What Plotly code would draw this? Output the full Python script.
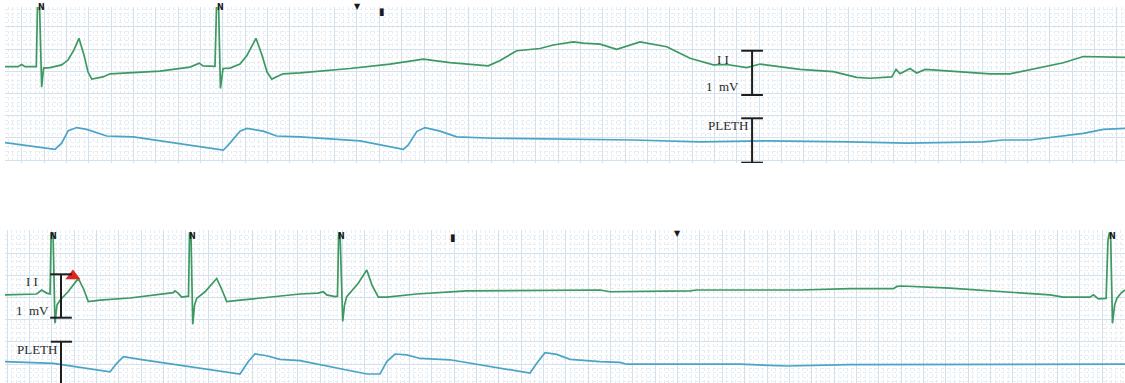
import plotly.graph_objects as go

# ---- Strip 1: lead II (mV) and pleth (scaled units), time in seconds ----
ecg1_t = [0.000, 0.116, 0.149, 0.179, 0.280, 0.291, 0.309, 0.328, 0.345, 0.403,
          0.507, 0.564, 0.617, 0.662, 0.707, 0.743, 0.776, 0.877, 0.940, 1.119,
          1.387, 1.655, 1.739, 1.772, 1.879, 1.893, 1.911, 1.928, 1.951, 2.013,
          2.103, 2.166, 2.246, 2.300, 2.345, 2.387, 2.488, 2.640, 3.087, 3.445,
          3.743, 3.982, 4.191, 4.325, 4.430, 4.579, 4.787, 4.906, 5.085, 5.175,
          5.324, 5.474, 5.682, 5.921, 6.130, 6.338, 6.458, 6.637, 6.756, 7.114,
          7.412, 7.621, 7.740, 7.935, 7.973, 8.009, 8.098, 8.158, 8.233, 8.456,
          8.814, 8.993, 9.232, 9.470, 9.649, 9.799, 10.022]
ecg1_mv = [0.00, 0.00, 0.05, 0.00, 0.00, 1.39, 1.39, -0.46, -0.03, -0.02,
           0.04, 0.15, 0.38, 0.64, 0.26, -0.12, -0.28, -0.23, -0.16, -0.14,
           -0.10, -0.01, 0.08, 0.02, 0.01, 1.39, 1.39, -0.49, -0.04, -0.03,
           0.06, 0.26, 0.64, 0.26, -0.12, -0.28, -0.16, -0.14, -0.04, 0.06,
           0.17, 0.09, 0.04, 0.02, 0.14, 0.36, 0.41, 0.49, 0.56, 0.53,
           0.51, 0.39, 0.56, 0.45, 0.19, 0.04, 0.05, -0.02, 0.06, -0.06,
           -0.11, -0.24, -0.26, -0.23, -0.06, -0.16, -0.04, -0.14, -0.06, -0.10,
           -0.16, -0.16, -0.04, 0.09, 0.23, 0.22, 0.21]

pleth1_t = [0.000, 0.447, 0.507, 0.566, 0.642, 0.731, 0.910, 1.148, 1.953, 2.013,
            2.103, 2.163, 2.311, 2.431, 2.640, 3.177, 3.564, 3.609, 3.684, 3.758,
            3.893, 4.042, 4.370, 5.324, 5.622, 6.219, 6.816, 7.562, 8.069, 8.754,
            8.931, 9.172, 9.411, 9.649, 9.828, 10.022]
pleth1_v = [-0.06, -0.21, -0.07, 0.21, 0.28, 0.24, 0.09, 0.07, -0.23, -0.07,
            0.20, 0.26, 0.20, 0.09, 0.07, -0.02, -0.21, -0.11, 0.19, 0.28,
            0.20, 0.07, 0.04, 0.02, 0.00, -0.04, -0.02, -0.04, -0.07, -0.04,
            0.00, 0.00, 0.07, 0.15, 0.24, 0.26]

# ---- Strip 2 ----
ecg2_t = [0.000, 0.284, 0.328, 0.373, 0.403, 0.413, 0.430, 0.447, 0.465, 0.492,
          0.564, 0.656, 0.707, 0.745, 0.850, 1.119, 1.506, 1.521, 1.548, 1.581,
          1.642, 1.651, 1.664, 1.680, 1.696, 1.715, 1.790, 1.894, 1.942, 1.984,
          2.103, 2.371, 2.640, 2.801, 2.848, 2.879, 2.953, 2.975, 2.986, 2.998,
          3.022, 3.038, 3.058, 3.161, 3.237, 3.284, 3.341, 3.416, 3.684, 4.132,
          5.324, 5.414, 6.130, 6.190, 7.114, 7.562, 7.949, 7.982, 8.024, 8.456,
          8.844, 9.351, 9.470, 9.709, 9.739, 9.763, 9.784, 9.853, 9.870, 9.882,
          9.893, 9.910, 9.929, 9.949, 9.987, 10.022]
ecg2_mv = [-0.02, 0.00, 0.09, 0.02, 0.00, 1.37, 1.37, -0.66, -0.25, -0.14,
           0.05, 0.35, 0.09, -0.17, -0.14, -0.09, 0.03, 0.07, 0.02, -0.07,
           -0.05, 1.37, 1.37, -0.68, -0.25, -0.10, 0.05, 0.35, 0.09, -0.17,
           -0.14, -0.07, 0.00, 0.02, 0.05, -0.02, -0.06, -0.05, 1.37, 1.37,
           -0.62, -0.25, -0.06, 0.24, 0.54, 0.20, -0.07, -0.07, 0.00, 0.07,
           0.09, 0.05, 0.07, 0.09, 0.09, 0.12, 0.12, 0.17, 0.18, 0.13,
           0.07, -0.02, -0.07, -0.07, -0.02, -0.08, -0.11, -0.10, 1.22, 1.37,
           1.37, -0.66, -0.25, -0.10, 0.02, 0.09]

pleth2_t = [0.000, 0.432, 0.940, 1.000, 1.059, 1.208, 2.103, 2.177, 2.237, 2.342,
            2.461, 2.640, 3.237, 3.356, 3.416, 3.490, 3.595, 3.714, 3.982, 4.698,
            4.758, 4.832, 4.937, 5.056, 5.324, 5.503, 5.563, 6.577, 6.995, 7.562,
            10.022]
pleth2_v = [0.01, -0.03, -0.22, -0.03, 0.12, 0.06, -0.27, 0.01, 0.18, 0.14,
            0.06, 0.03, -0.27, -0.27, 0.01, 0.18, 0.16, 0.08, 0.05, -0.25,
            -0.03, 0.21, 0.17, 0.06, 0.01, -0.01, -0.05, -0.05, -0.09, -0.06,
            -0.05]

# beat labels and event flags (seconds)
beats1 = [0.30, 1.90]
beats2 = [0.42, 1.657, 2.992, 9.888]
pause1 = 3.150
mark1 = 3.374
mark2 = 4.009
pause2 = 6.022
alarm2 = [0.608]

W, H = 1125, 383
ECG_COLOR = "#3d9862"
PLETH_COLOR = "#4ba4c6"
MAJOR = "#d2e1eb"
MINOR = "#e6edf3"

# vertical placement of traces in each strip (grid units, 0.5 mV per box)
ECG1_OFF, PLETH1_OFF = 2.169, 0.518
ECG2_OFF, PLETH2_OFF = 2.005, 0.473

fig = go.Figure()
fig.add_trace(go.Scatter(x=ecg1_t, y=[v + ECG1_OFF for v in ecg1_mv], mode="lines",
                         line=dict(color=ECG_COLOR, width=1.7), xaxis="x", yaxis="y"))
fig.add_trace(go.Scatter(x=pleth1_t, y=[v + PLETH1_OFF for v in pleth1_v], mode="lines",
                         line=dict(color=PLETH_COLOR, width=1.7), xaxis="x", yaxis="y"))
fig.add_trace(go.Scatter(x=ecg2_t, y=[v + ECG2_OFF for v in ecg2_mv], mode="lines",
                         line=dict(color=ECG_COLOR, width=1.7), xaxis="x2", yaxis="y2"))
fig.add_trace(go.Scatter(x=pleth2_t, y=[v + PLETH2_OFF for v in pleth2_v], mode="lines",
                         line=dict(color=PLETH_COLOR, width=1.7), xaxis="x2", yaxis="y2"))
# alarm flag on strip 2
fig.add_trace(go.Scatter(x=alarm2, y=[2.41], mode="markers",
                         marker=dict(symbol="triangle-up", size=13, color="#e0231c"),
                         xaxis="x2", yaxis="y2"))


def grid_axis(domain, rng, tick0, dtick, mdtick, anchor):
    return dict(domain=domain, range=rng, anchor=anchor, tick0=tick0, dtick=dtick,
                showgrid=True, gridcolor=MAJOR, gridwidth=1, zeroline=False,
                showticklabels=False, ticks="", showline=False, fixedrange=True,
                minor=dict(tick0=tick0, dtick=mdtick, showgrid=True, gridcolor=MINOR,
                           griddash="dot", gridwidth=1))


xdom = [5 / W, 1.0]
top_dom = [1 - 163 / H, 1 - 7 / H]
bot_dom = [0.0, 1 - 230 / H]

fig.update_layout(
    width=W, height=H, margin=dict(l=0, r=0, t=0, b=0),
    paper_bgcolor="white", plot_bgcolor="white", showlegend=False,
    xaxis=grid_axis(xdom, [0, 10.022], 0.1494, 0.2, 0.04, "y"),
    yaxis=grid_axis(top_dom, [0, 3.514], 0.0676, 0.5, 0.1, "x"),
    xaxis2=grid_axis(xdom, [0, 10.022], 0.0188, 0.2, 0.04, "y2"),
    yaxis2=grid_axis(bot_dom, [0, 3.446], 0.428, 0.5, 0.1, "x2"),
)

# calibration brackets
def bracket(xref, yref, x, y0, y1, half=0.097):
    ln = dict(color="#1e1e1e", width=2)
    return [
        dict(type="line", xref=xref, yref=yref, x0=x, x1=x, y0=y0, y1=y1, line=ln),
        dict(type="line", xref=xref, yref=yref, x0=x - half, x1=x + half, y0=y0, y1=y0, line=ln),
        dict(type="line", xref=xref, yref=yref, x0=x - half, x1=x + half, y0=y1, y1=y1, line=ln),
    ]


shapes = []
shapes += bracket("x", "y", 6.685, 1.532, 2.529)
shapes += bracket("x", "y", 6.685, 0.007, 1.007)
shapes += bracket("x2", "y2", 0.501, 1.471, 2.448)
shapes.append(dict(type="line", xref="x2", yref="y2", x0=0.501, x1=0.501, y0=-0.1, y1=0.93,
                   line=dict(color="#1e1e1e", width=2)))
shapes.append(dict(type="line", xref="x2", yref="y2", x0=0.41, x1=0.60, y0=0.93, y1=0.93,
                   line=dict(color="#1e1e1e", width=2)))
fig.update_layout(shapes=shapes)

LABEL_FONT = dict(family="Liberation Serif", size=13, color="#2a2a2a")


def ptxt(text, px, py, font=LABEL_FONT):
    return dict(text=text, x=px / W, y=1 - py / H, xref="paper", yref="paper",
                showarrow=False, font=font, xanchor="center", yanchor="middle")


ann = [
    ptxt("I I", 723, 59), ptxt("1  mV", 722, 86), ptxt("PLETH", 728, 126),
    ptxt("I I", 32, 281), ptxt("1  mV", 32, 310), ptxt("PLETH", 37, 349),
]
N_FONT = dict(family="DejaVu Sans", size=8, color="#1a1a1a")
for t in beats1:
    ann.append(dict(text="<b>N</b>", x=t, y=1 - 8 / H, xref="x", yref="paper", xshift=3,
                    showarrow=False, font=N_FONT, yanchor="middle"))
for t in beats2:
    ann.append(dict(text="<b>N</b>", x=t, y=1 - 236 / H, xref="x2", yref="paper", xshift=2,
                    showarrow=False, font=N_FONT, yanchor="middle"))
MK_FONT = dict(family="DejaVu Sans", size=8, color="#1a1a1a")
ann.append(dict(text="▼", x=pause1, y=1 - 7 / H, xref="x", yref="paper",
                showarrow=False, font=MK_FONT, yanchor="middle"))
ann.append(dict(text="▮", x=mark1, y=1 - 11 / H, xref="x", yref="paper",
                showarrow=False, font=dict(family="DejaVu Sans", size=10, color="#1a1a1a"),
                yanchor="middle"))
ann.append(dict(text="▮", x=mark2, y=1 - 237 / H, xref="x2", yref="paper",
                showarrow=False, font=dict(family="DejaVu Sans", size=10, color="#1a1a1a"),
                yanchor="middle"))
ann.append(dict(text="▼", x=pause2, y=1 - 233 / H, xref="x2", yref="paper",
                showarrow=False, font=MK_FONT, yanchor="middle"))
fig.update_layout(annotations=ann)

fig.write_html("out.html")
